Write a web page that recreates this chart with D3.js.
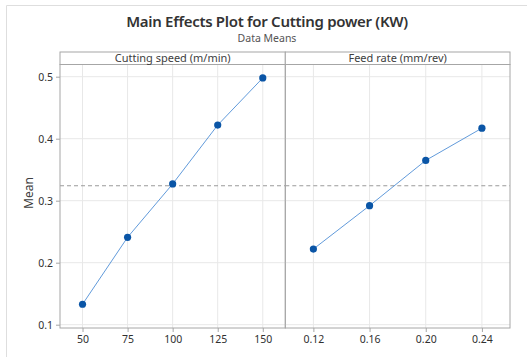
<!DOCTYPE html>
<html>
<head>
  <meta charset="utf-8">
  <title>Main Effects Plot</title>
  <script src="https://d3js.org/d3.v7.min.js"></script>
  <style>
    body { margin: 0; padding: 0; background: white; }
    text { font-family: "Segoe UI", "Noto Sans", sans-serif; fill: #303030; }
  </style>
</head>
<body>
  <div id="chart"></div>
  <script>
    // data
    var speedLevels = [50, 75, 100, 125, 150];
    var speedMeans = [0.133, 0.241, 0.327, 0.422, 0.498];
    var feedLevels = [0.12, 0.16, 0.20, 0.24];
    var feedMeans = [0.222, 0.292, 0.365, 0.417];
    var factorNames = ["Cutting speed (m/min)", "Feed rate (mm/rev)"];
    var yTicks = [0.1, 0.2, 0.3, 0.4, 0.5];

    var width = 527, height = 357;
    var plotTop = 64.5, plotBottom = 328, headTop = 52;
    var panels = [
      { name: factorNames[0], levels: speedLevels, means: speedMeans, x0: 60, x1: 285.3, fmt: d3.format("d") },
      { name: factorNames[1], levels: feedLevels, means: feedMeans, x0: 285.3, x1: 510, fmt: d3.format(".2f") }
    ];

    var grand = d3.mean(speedMeans.concat(feedMeans));

    var svg = d3.select("#chart").append("svg")
      .attr("width", width).attr("height", height);

    // faint outer frame
    svg.append("path").attr("d", "M6.5," + height + "V5.5H" + width)
      .attr("fill", "none").attr("stroke", "#dedede");

    svg.append("text").attr("x", 267).attr("y", 27)
      .attr("text-anchor", "middle").style("font-size", "15px").style("font-weight", 600)
      .style("letter-spacing", "-0.3px").style("fill", "#333")
      .text("Main Effects Plot for Cutting power (KW)");
    svg.append("text").attr("x", 267).attr("y", 42)
      .attr("text-anchor", "middle").style("font-size", "10.5px").style("fill", "#555")
      .text("Data Means");

    var y = d3.scaleLinear().domain([0.1, 0.5]).range([324.7, 76.7]);

    panels.forEach(function(p) {
      var x = d3.scalePoint().domain(p.levels).range([p.x0, p.x1]).padding(0.5);
      var g = svg.append("g");

      // gridlines
      g.selectAll(".vg").data(p.levels).enter().append("line")
        .attr("x1", function(d) { return x(d); }).attr("x2", function(d) { return x(d); })
        .attr("y1", plotTop).attr("y2", plotBottom).attr("stroke", "#e8e8e8");
      g.selectAll(".hg").data(yTicks).enter().append("line")
        .attr("x1", p.x0).attr("x2", p.x1)
        .attr("y1", function(d) { return y(d); }).attr("y2", function(d) { return y(d); })
        .attr("stroke", "#e8e8e8");

      // mean reference
      g.append("line").attr("x1", p.x0).attr("x2", p.x1)
        .attr("y1", y(grand)).attr("y2", y(grand))
        .attr("stroke", "#9a9a9a").attr("stroke-dasharray", "4,3");

      // panel border and header
      g.append("rect").attr("x", p.x0).attr("y", plotTop).attr("width", p.x1 - p.x0).attr("height", plotBottom - plotTop)
        .attr("fill", "none").attr("stroke", "#a6a6a6");
      g.append("rect").attr("x", p.x0).attr("y", headTop).attr("width", p.x1 - p.x0).attr("height", plotTop - headTop)
        .attr("fill", "white").attr("stroke", "#a6a6a6");
      g.append("text").attr("x", (p.x0 + p.x1) / 2).attr("y", 62)
        .attr("text-anchor", "middle").style("font-size", "11px").style("fill", "#404040")
        .text(p.name);

      // bottom axis
      var ax = g.append("g").attr("transform", "translate(0," + plotBottom + ")")
        .call(d3.axisBottom(x).tickSize(4).tickPadding(4).tickFormat(p.fmt));
      ax.select(".domain").remove();
      ax.selectAll("line").attr("stroke", "#a6a6a6");
      ax.selectAll("text").style("font-size", "10.5px").style("fill", "#303030");

      // line and points
      var pts = p.levels.map(function(d, i) { return [d, p.means[i]]; });
      g.append("path").datum(pts)
        .attr("d", d3.line().x(function(d) { return x(d[0]); }).y(function(d) { return y(d[1]); }))
        .attr("fill", "none").attr("stroke", "#4f8fd6").attr("stroke-width", 0.9);
      g.selectAll("circle").data(pts).enter().append("circle")
        .attr("cx", function(d) { return x(d[0]); }).attr("cy", function(d) { return y(d[1]); })
        .attr("r", 3.6).attr("fill", "#0a55a6");
    });

    // y axis
    var ay = svg.append("g").attr("transform", "translate(60,0)")
      .call(d3.axisLeft(y).tickValues(yTicks).tickSize(4).tickPadding(3).tickFormat(d3.format(".1f")));
    ay.select(".domain").remove();
    ay.selectAll("line").attr("stroke", "#a6a6a6");
    ay.selectAll("text").style("font-size", "10.5px").style("fill", "#303030");

    svg.append("text").attr("transform", "translate(33,193) rotate(-90)")
      .attr("text-anchor", "middle").style("font-size", "12px").style("fill", "#404040")
      .text("Mean");
  </script>
</body>
</html>
